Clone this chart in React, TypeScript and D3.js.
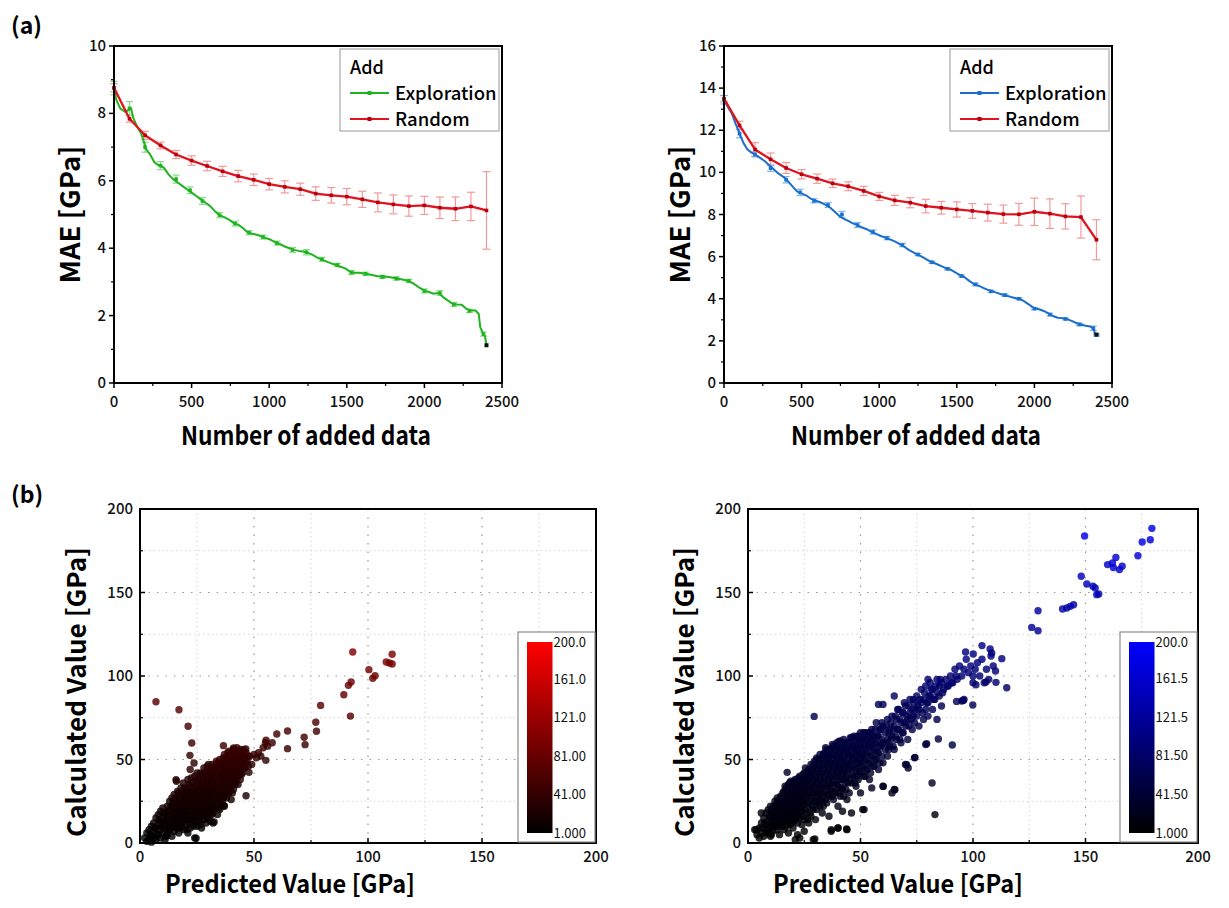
import React from 'react';
import * as d3 from 'd3';

const FONT = '"Noto Sans CJK KR", "Noto Sans", sans-serif';

// ---------- (a) data ----------
const randX = [0, 100, 200, 300, 400, 500, 600, 700, 800, 900, 1000, 1100, 1200, 1300, 1400, 1500, 1600, 1700, 1800, 1900, 2000, 2100, 2200, 2300, 2400];
const randLeftY = [8.76, 7.84, 7.35, 7.05, 6.78, 6.6, 6.44, 6.28, 6.14, 6.03, 5.9, 5.82, 5.75, 5.62, 5.57, 5.53, 5.45, 5.36, 5.3, 5.25, 5.27, 5.2, 5.17, 5.24, 5.12];
const randLeftErr = [0.12, 0.1, 0.12, 0.1, 0.12, 0.14, 0.14, 0.15, 0.17, 0.17, 0.17, 0.18, 0.18, 0.2, 0.23, 0.24, 0.24, 0.28, 0.28, 0.3, 0.27, 0.32, 0.35, 0.42, 1.15];
const randRightY = [13.5, 12.23, 11.09, 10.62, 10.21, 9.91, 9.7, 9.48, 9.34, 9.12, 8.86, 8.67, 8.56, 8.4, 8.32, 8.24, 8.17, 8.09, 8.02, 8.01, 8.13, 8.04, 7.91, 7.88, 6.8];
const randRightErr = [0.15, 0.2, 0.32, 0.3, 0.26, 0.22, 0.22, 0.2, 0.21, 0.22, 0.19, 0.24, 0.24, 0.32, 0.3, 0.36, 0.35, 0.4, 0.43, 0.52, 0.65, 0.7, 0.6, 1.0, 0.95];

const explLeftX = [0, 15, 40, 70, 95, 110, 125, 150, 175, 190, 205, 230, 260, 290, 320, 350, 380, 410, 440, 470, 500, 530, 560, 590, 620, 650, 680, 710, 740, 770, 800, 830, 860, 890, 920, 950, 980, 1010, 1040, 1070, 1100, 1130, 1160, 1190, 1220, 1250, 1280, 1310, 1340, 1370, 1400, 1430, 1460, 1490, 1520, 1550, 1580, 1610, 1640, 1670, 1700, 1730, 1760, 1790, 1820, 1850, 1880, 1910, 1940, 1970, 2000, 2030, 2060, 2090, 2120, 2150, 2180, 2210, 2240, 2270, 2300, 2330, 2350, 2360, 2375, 2390, 2400];
const explLeftY = [8.75, 8.4, 8.15, 8.05, 8.1, 8.15, 7.85, 7.6, 7.4, 7.2, 6.95, 6.8, 6.55, 6.45, 6.4, 6.2, 6.05, 5.95, 5.85, 5.75, 5.65, 5.55, 5.45, 5.35, 5.25, 5.1, 4.98, 4.92, 4.85, 4.75, 4.7, 4.6, 4.47, 4.43, 4.4, 4.35, 4.3, 4.25, 4.17, 4.12, 4.05, 4.0, 3.95, 3.92, 3.9, 3.86, 3.8, 3.72, 3.66, 3.6, 3.55, 3.5, 3.45, 3.4, 3.3, 3.27, 3.27, 3.25, 3.23, 3.2, 3.17, 3.15, 3.15, 3.13, 3.1, 3.08, 3.05, 3.0, 2.92, 2.82, 2.74, 2.7, 2.65, 2.67, 2.55, 2.45, 2.35, 2.33, 2.32, 2.2, 2.15, 2.15, 2.05, 1.65, 1.5, 1.4, 1.12];
const explLeftErrX = [0, 100, 200, 300, 400, 490, 570, 680, 780, 870, 960, 1050, 1150, 1240, 1340, 1440, 1530, 1620, 1730, 1820, 1900, 2000, 2100, 2190, 2290, 2380];
const explLeftErrY = [8.75, 8.15, 7.0, 6.45, 6.05, 5.72, 5.4, 4.98, 4.73, 4.46, 4.33, 4.15, 3.95, 3.88, 3.67, 3.5, 3.28, 3.24, 3.15, 3.1, 3.03, 2.73, 2.67, 2.33, 2.14, 1.45];
const explLeftErr = [0.2, 0.2, 0.15, 0.12, 0.12, 0.1, 0.1, 0.08, 0.07, 0.06, 0.06, 0.06, 0.07, 0.08, 0.06, 0.05, 0.06, 0.05, 0.05, 0.05, 0.05, 0.06, 0.07, 0.06, 0.05, 0.06];

const explRightX = [0, 25, 50, 75, 100, 125, 150, 175, 200, 230, 260, 290, 320, 350, 380, 410, 440, 470, 500, 530, 560, 590, 620, 650, 680, 710, 740, 770, 800, 830, 860, 890, 920, 950, 980, 1010, 1040, 1070, 1100, 1130, 1160, 1190, 1220, 1250, 1280, 1310, 1340, 1370, 1400, 1430, 1460, 1490, 1520, 1550, 1580, 1610, 1640, 1670, 1700, 1730, 1760, 1790, 1820, 1850, 1880, 1910, 1940, 1970, 2000, 2030, 2060, 2090, 2120, 2150, 2180, 2210, 2240, 2270, 2300, 2330, 2360, 2380, 2390, 2400];
const explRightY = [13.45, 13.1, 12.8, 12.3, 11.85, 11.4, 11.1, 10.95, 10.85, 10.7, 10.55, 10.35, 10.15, 9.95, 9.8, 9.6, 9.35, 9.1, 9.0, 8.9, 8.75, 8.65, 8.58, 8.48, 8.35, 8.15, 7.95, 7.8, 7.7, 7.58, 7.5, 7.38, 7.3, 7.18, 7.08, 6.98, 6.9, 6.82, 6.72, 6.6, 6.48, 6.32, 6.2, 6.08, 5.98, 5.85, 5.73, 5.65, 5.55, 5.45, 5.38, 5.25, 5.12, 5.02, 4.85, 4.7, 4.62, 4.52, 4.42, 4.35, 4.28, 4.2, 4.15, 4.08, 4.02, 3.98, 3.85, 3.7, 3.55, 3.5, 3.42, 3.3, 3.18, 3.1, 3.08, 3.03, 2.95, 2.85, 2.78, 2.72, 2.68, 2.6, 2.35, 2.3];
const explRightErrX = [0, 100, 200, 300, 400, 490, 580, 670, 760, 860, 960, 1050, 1150, 1250, 1340, 1440, 1530, 1620, 1720, 1810, 1900, 2000, 2100, 2200, 2290, 2380, 2400];
const explRightErrY = [13.45, 11.84, 10.85, 10.2, 9.65, 9.05, 8.65, 8.45, 8.0, 7.5, 7.17, 6.88, 6.55, 6.1, 5.73, 5.42, 5.08, 4.68, 4.35, 4.17, 4.0, 3.53, 3.25, 3.04, 2.78, 2.6, 2.28];
const explRightErr = [0.2, 0.2, 0.12, 0.15, 0.15, 0.15, 0.1, 0.12, 0.15, 0.12, 0.1, 0.08, 0.08, 0.05, 0.05, 0.05, 0.05, 0.06, 0.05, 0.06, 0.05, 0.05, 0.06, 0.04, 0.06, 0.1, 0.05];

const xTicksA = [0, 500, 1000, 1500, 2000, 2500];
const yTicksLeftA = [0, 2, 4, 6, 8, 10];
const yTicksRightA = [0, 2, 4, 6, 8, 10, 12, 14, 16];

// ---------- (b) data: [predicted, calculated] ----------
const scatterLeft: [number, number][] = [
  [2, 3], [3, 1], [3, 6], [4, 2], [4, 8], [5, 4], [5, 0.5], [5, 10], [6, 3], [6, 7], [6, 12],
  [7, 2], [7, 9], [7, 15], [8, 5], [8, 11], [8, 17], [9, 3], [9, 8], [9, 13], [9, 19], [10, 6], [10, 10], [10, 15], [10, 21],
  [11, 2], [11, 9], [11, 13], [11, 18], [12, 5], [12, 11], [12, 16], [12, 22], [13, 8], [13, 12], [13, 19], [13, 25], [14, 4], [14, 10], [14, 15], [14, 21], [14, 27],
  [15, 7], [15, 13], [15, 18], [15, 24], [15, 29], [16, 9], [16, 16], [16, 21], [16, 26], [16, 37], [17, 6], [17, 12], [17, 18], [17, 23], [17, 30], [18, 10], [18, 15], [18, 20], [18, 25], [18, 33],
  [19, 8], [19, 14], [19, 19], [19, 24], [19, 29], [19, 36], [20, 11], [20, 17], [20, 22], [20, 27], [20, 32], [21, 6], [21, 14], [21, 20], [21, 25], [21, 30], [21, 38], [22, 9], [22, 16], [22, 22], [22, 28], [22, 34], [22, 44],
  [23, 12], [23, 18], [23, 24], [23, 30], [23, 36], [24, 3], [24, 15], [24, 21], [24, 27], [24, 33], [24, 40], [25, 10], [25, 17], [25, 23], [25, 29], [25, 35], [25, 42], [26, 13], [26, 19], [26, 25], [26, 31], [26, 38],
  [27, 9], [27, 16], [27, 22], [27, 28], [27, 34], [27, 41], [28, 14], [28, 20], [28, 26], [28, 32], [28, 39], [28, 45], [29, 12], [29, 18], [29, 24], [29, 30], [29, 36], [29, 43], [30, 16], [30, 22], [30, 28], [30, 34], [30, 40], [30, 47],
  [31, 13], [31, 20], [31, 26], [31, 32], [31, 38], [31, 44], [32, 12], [32, 18], [32, 24], [32, 30], [32, 36], [32, 42], [33, 21], [33, 27], [33, 33], [33, 39], [33, 46], [34, 17], [34, 23], [34, 29], [34, 35], [34, 41], [34, 48],
  [35, 20], [35, 26], [35, 32], [35, 38], [35, 44], [35, 50], [36, 24], [36, 30], [36, 36], [36, 42], [36, 48], [37, 22], [37, 28], [37, 34], [37, 40], [37, 46], [37, 53], [38, 27], [38, 33], [38, 39], [38, 45], [38, 51],
  [39, 30], [39, 36], [39, 42], [39, 48], [39, 55], [40, 26], [40, 34], [40, 40], [40, 46], [40, 52], [41, 32], [41, 38], [41, 44], [41, 50], [41, 56], [42, 36], [42, 42], [42, 48], [42, 54],
  [43, 35], [43, 40], [43, 46], [43, 52], [44, 38], [44, 44], [44, 50], [44, 56], [45, 42], [45, 48], [45, 53], [46, 45], [46, 51], [47, 49], [48, 52], [49, 47],
  [50, 53], [51, 51], [52, 54], [53, 52], [54, 57], [55, 60], [56, 58], [58, 60],
  [7, 84.6], [17.1, 79.8], [21.1, 69.9], [22.7, 59.9], [21.9, 52.5], [23.7, 47.9], [15.8, 37.9], [36.6, 58.3], [41, 56.9], [46.4, 56.3],
  [55.3, 61.5], [60, 65.3], [64.7, 67.1], [64.7, 56.5], [55.2, 49.5], [46.5, 28.3], [47.8, 42.3], [72, 63.3], [72.4, 58.9], [77.1, 72.3],
  [77.4, 66.9], [79.2, 82.4], [89.4, 88.8], [91.4, 94.4], [92.6, 96.4], [92.3, 76], [93.3, 114.4], [100.4, 103.8], [102.1, 98.6], [103.1, 100.2],
  [108, 108.4], [109.4, 107.8], [110.6, 107.2], [110.6, 113], [24.6, 2.8], [32.5, 12.6], [36.9, 22.4],
];

const scatterLeftFill: [number, number][] = [
  [4.5, 5], [6.5, 9], [7.5, 5], [8.5, 14], [9.5, 10], [10.5, 13], [10.5, 18], [11.5, 4], [11.5, 15], [12.5, 8], [12.5, 19], [13.5, 14], [13.5, 22],
  [14.5, 12], [14.5, 18], [14.5, 24], [15.5, 10], [15.5, 16], [15.5, 21], [15.5, 27], [16.5, 13], [16.5, 19], [16.5, 24], [16.5, 31], [17.5, 9], [17.5, 15], [17.5, 21], [17.5, 27],
  [18.5, 12], [18.5, 18], [18.5, 23], [18.5, 29], [19.5, 16], [19.5, 21], [19.5, 27], [19.5, 33], [20.5, 8], [20.5, 14], [20.5, 19], [20.5, 25], [20.5, 30],
  [21.5, 12], [21.5, 17], [21.5, 23], [21.5, 28], [21.5, 35], [22.5, 14], [22.5, 20], [22.5, 26], [22.5, 31], [22.5, 39], [23.5, 10], [23.5, 16], [23.5, 22], [23.5, 27], [23.5, 33],
  [24.5, 13], [24.5, 19], [24.5, 25], [24.5, 30], [24.5, 37], [25.5, 15], [25.5, 21], [25.5, 27], [25.5, 32], [25.5, 39], [26.5, 11], [26.5, 17], [26.5, 23], [26.5, 29], [26.5, 35], [26.5, 42],
  [27.5, 19], [27.5, 25], [27.5, 31], [27.5, 37], [28.5, 17], [28.5, 23], [28.5, 29], [28.5, 35], [28.5, 42], [29.5, 15], [29.5, 21], [29.5, 27], [29.5, 33], [29.5, 39], [29.5, 46],
  [30.5, 19], [30.5, 25], [30.5, 31], [30.5, 37], [30.5, 43], [31.5, 17], [31.5, 23], [31.5, 29], [31.5, 35], [31.5, 41], [31.5, 47], [32.5, 21], [32.5, 27], [32.5, 33], [32.5, 39], [32.5, 45],
  [33.5, 24], [33.5, 30], [33.5, 36], [33.5, 42], [33.5, 49], [34.5, 21], [34.5, 27], [34.5, 33], [34.5, 39], [34.5, 45], [35.5, 23], [35.5, 29], [35.5, 35], [35.5, 41], [35.5, 47],
  [36.5, 27], [36.5, 33], [36.5, 39], [36.5, 45], [36.5, 51], [37.5, 31], [37.5, 37], [37.5, 43], [37.5, 49], [38.5, 30], [38.5, 36], [38.5, 42], [38.5, 48], [38.5, 54],
  [39.5, 33], [39.5, 39], [39.5, 45], [39.5, 51], [40.5, 30], [40.5, 37], [40.5, 43], [40.5, 49], [40.5, 55], [41.5, 35], [41.5, 41], [41.5, 47], [41.5, 53],
  [42.5, 39], [42.5, 45], [42.5, 51], [42.5, 57], [43.5, 43], [43.5, 49], [43.5, 55], [44.5, 41], [44.5, 47], [44.5, 53], [45.5, 45], [45.5, 51], [45.5, 56], [46.5, 48], [46.5, 54], [47.5, 46], [47.5, 52],
];

const scatterRight: [number, number][] = [
  [3, 8], [4, 5], [5, 9], [5, 3], [6, 12], [6, 6], [7, 4], [7, 15], [8, 8], [8, 11], [8, 18], [9, 6], [9, 13], [9, 20], [10, 9], [10, 16], [10, 22], [10, 4],
  [11, 12], [11, 18], [11, 7], [12, 14], [12, 20], [12, 25], [12, 10], [13, 8], [13, 16], [13, 22], [13, 27], [14, 12], [14, 18], [14, 24], [14, 5], [15, 15], [15, 21], [15, 27], [15, 10], [16, 13], [16, 19], [16, 25], [16, 31], [16, 8],
  [17, 16], [17, 22], [17, 28], [17, 33], [17, 10], [18, 14], [18, 20], [18, 26], [18, 35], [18, 6], [19, 12], [19, 18], [19, 24], [19, 30], [19, 37], [20, 16], [20, 22], [20, 28], [20, 34], [20, 9], [21, 2], [21, 14], [21, 20], [21, 26], [21, 32], [21, 38], [22, 12], [22, 18], [22, 24], [22, 30], [22, 36], [22, 5],
  [23, 16], [23, 22], [23, 28], [23, 34], [23, 40], [24, 11], [24, 20], [24, 26], [24, 32], [24, 38], [25, 14], [25, 24], [25, 30], [25, 36], [25, 42], [25, 7], [26, 18], [26, 28], [26, 34], [26, 40], [27, 22], [27, 30], [27, 38], [27, 44], [27, 12], [28, 16], [28, 26], [28, 34], [28, 42], [28, 47],
  [29, 20], [29, 30], [29, 38], [29, 46], [29, 2], [30, 24], [30, 32], [30, 40], [30, 48], [30, 14], [31, 28], [31, 36], [31, 44], [31, 50], [32, 22], [32, 30], [32, 38], [32, 46], [32, 53], [33, 26], [33, 34], [33, 42], [33, 50], [33, 18], [34, 30], [34, 38], [34, 46], [34, 54],
  [35, 24], [35, 34], [35, 42], [35, 50], [35, 56], [36, 28], [36, 36], [36, 44], [36, 52], [36, 16], [37, 32], [37, 40], [37, 48], [37, 56], [37, 8], [38, 26], [38, 36], [38, 44], [38, 52], [38, 58], [39, 30], [39, 40], [39, 48], [39, 56], [40, 22], [40, 34], [40, 42], [40, 50], [40, 58], [40, 9],
  [41, 28], [41, 38], [41, 46], [41, 54], [41, 61], [42, 32], [42, 42], [42, 50], [42, 58], [42, 19], [43, 36], [43, 44], [43, 52], [43, 60], [44, 26], [44, 40], [44, 48], [44, 56], [44, 8], [45, 30], [45, 44], [45, 52], [45, 60], [46, 36], [46, 46], [46, 54], [46, 63], [46, 18],
  [47, 40], [47, 50], [47, 58], [47, 64], [48, 34], [48, 44], [48, 52], [48, 60], [49, 38], [49, 48], [49, 56], [49, 64], [50, 42], [50, 50], [50, 58], [50, 66], [50, 30], [51, 46], [51, 54], [51, 62], [51, 20], [52, 40], [52, 50], [52, 58], [52, 66],
  [53, 44], [53, 54], [53, 62], [54, 38], [54, 48], [54, 58], [54, 66], [55, 52], [55, 60], [55, 68], [55, 33], [56, 46], [56, 56], [56, 64], [57, 50], [57, 60], [57, 72], [58, 44], [58, 54], [58, 64], [58, 83], [59, 58], [59, 68], [60, 48], [60, 60], [60, 70], [60, 83], [60, 34],
  [61, 56], [61, 66], [62, 52], [62, 62], [62, 74], [63, 58], [63, 68], [64, 64], [64, 76], [64, 30], [65, 56], [65, 70], [65, 88], [65, 32], [66, 62], [66, 74], [67, 68], [67, 80], [68, 60], [68, 72], [69, 66], [69, 78], [70, 70], [70, 82], [70, 47],
  [71, 74], [71, 62], [72, 78], [72, 86], [73, 68], [73, 80], [74, 72], [74, 84], [74, 51], [75, 76], [75, 88], [76, 80], [76, 70], [77, 84], [77, 92], [78, 74], [78, 86], [79, 80], [79, 94], [79, 59], [80, 84], [80, 98], [80, 76],
  [81, 88], [81, 96], [82, 80], [82, 92], [83, 86], [84, 90], [84, 98], [84, 74], [85, 94], [85, 88], [86, 96], [86, 82], [87, 92], [88, 98], [89, 94], [90, 100], [91, 96], [92, 104], [93, 98], [94, 106], [95, 100], [95, 85], [96, 104], [96, 86],
  [97, 110], [98, 102], [99, 106], [100, 100], [100, 96], [101, 104], [102, 108], [103, 100], [104, 110], [105, 96], [106, 104], [107, 98], [108, 112], [109, 106], [110, 103],
  [149.6, 183.8], [179.5, 188.4], [178.8, 181.6], [175.2, 180.2], [173.3, 172], [163.5, 171], [162, 167.7], [159.8, 166.7], [162.4, 164.9], [166.3, 165.7], [165.1, 163.7],
  [148.1, 159.7], [150.6, 155.1], [153.3, 153.7], [154.3, 152.7], [155, 148.7], [155.9, 149.1], [139.8, 140.1], [141.7, 140.7], [143.2, 141.7], [144.7, 142.7],
  [128.9, 139.1], [126.1, 129.1], [128.9, 127.1], [104, 118.2], [107.6, 116.2], [108.3, 113.8], [112.8, 110.4], [96.7, 114.4], [100.1, 113.2],
  [115, 93], [110.2, 96.2], [105.8, 96.4], [101.3, 94.8], [99.9, 82.6], [95.7, 85.4], [92.7, 84.8], [84.6, 62.3], [90.8, 58.7], [79.4, 59.5],
  [74.2, 51.3], [71.2, 44.9], [70.5, 46.9], [81.8, 35.9], [83.1, 17], [65.3, 31.9], [60.1, 33.9], [29.4, 75.8], [17.4, 42.3],
  [3.7, 8], [5.9, 18], [29.7, 2.4], [40, 9], [43.8, 8.4], [51.6, 20], [37, 7], [10.4, 5], [23, 3],
];

const scatterRightFill: [number, number][] = [
  [6.5, 9], [7.5, 12], [8.5, 6], [9.5, 10], [9.5, 16], [10.5, 13], [10.5, 19], [11.5, 10], [11.5, 15], [11.5, 22], [12.5, 12], [12.5, 17], [12.5, 23], [13.5, 10], [13.5, 19], [13.5, 25],
  [14.5, 14], [14.5, 21], [14.5, 28], [15.5, 12], [15.5, 18], [15.5, 24], [15.5, 30], [16.5, 16], [16.5, 22], [16.5, 28], [16.5, 34], [17.5, 13], [17.5, 19], [17.5, 25], [17.5, 31],
  [18.5, 11], [18.5, 17], [18.5, 23], [18.5, 29], [18.5, 36], [19.5, 15], [19.5, 21], [19.5, 27], [19.5, 33], [20.5, 13], [20.5, 19], [20.5, 25], [20.5, 31], [20.5, 37],
  [21.5, 17], [21.5, 23], [21.5, 29], [21.5, 35], [22.5, 15], [22.5, 21], [22.5, 27], [22.5, 33], [22.5, 39], [23.5, 19], [23.5, 25], [23.5, 31], [23.5, 37],
  [24.5, 16], [24.5, 23], [24.5, 29], [24.5, 35], [24.5, 41], [25.5, 20], [25.5, 27], [25.5, 33], [25.5, 39], [25.5, 45], [26.5, 14], [26.5, 24], [26.5, 31], [26.5, 37], [26.5, 43],
  [27.5, 18], [27.5, 27], [27.5, 34], [27.5, 41], [28.5, 22], [28.5, 30], [28.5, 38], [28.5, 45], [29.5, 25], [29.5, 34], [29.5, 42], [29.5, 49],
  [30.5, 20], [30.5, 28], [30.5, 36], [30.5, 44], [30.5, 51], [31.5, 24], [31.5, 32], [31.5, 40], [31.5, 47], [32.5, 26], [32.5, 34], [32.5, 42], [32.5, 50],
  [33.5, 22], [33.5, 30], [33.5, 38], [33.5, 46], [33.5, 53], [34.5, 26], [34.5, 34], [34.5, 42], [34.5, 50], [34.5, 57], [35.5, 29], [35.5, 38], [35.5, 46], [35.5, 53],
  [36.5, 32], [36.5, 40], [36.5, 48], [36.5, 56], [37.5, 28], [37.5, 36], [37.5, 44], [37.5, 52], [37.5, 59], [38.5, 31], [38.5, 40], [38.5, 48], [38.5, 56],
  [39.5, 35], [39.5, 44], [39.5, 52], [39.5, 60], [40.5, 30], [40.5, 38], [40.5, 46], [40.5, 54], [40.5, 61], [41.5, 33], [41.5, 42], [41.5, 50], [41.5, 58],
  [42.5, 28], [42.5, 38], [42.5, 46], [42.5, 54], [42.5, 62], [43.5, 32], [43.5, 40], [43.5, 48], [43.5, 56], [44.5, 36], [44.5, 44], [44.5, 52], [44.5, 60],
  [45.5, 38], [45.5, 48], [45.5, 56], [45.5, 63], [46.5, 41], [46.5, 50], [46.5, 58], [47.5, 36], [47.5, 45], [47.5, 54], [47.5, 62], [48.5, 40], [48.5, 48], [48.5, 56], [48.5, 64],
  [49.5, 43], [49.5, 52], [49.5, 60], [50.5, 46], [50.5, 54], [50.5, 62], [51.5, 40], [51.5, 50], [51.5, 58], [51.5, 66], [52.5, 44], [52.5, 54], [52.5, 62],
  [53.5, 48], [53.5, 58], [53.5, 66], [54.5, 42], [54.5, 52], [54.5, 62], [55.5, 46], [55.5, 56], [55.5, 64], [56.5, 50], [56.5, 60], [56.5, 68], [57.5, 54], [57.5, 64],
  [58.5, 48], [58.5, 58], [58.5, 68], [59.5, 52], [59.5, 62], [59.5, 72], [61.5, 60], [61.5, 70], [62.5, 56], [62.5, 66], [63.5, 62], [63.5, 72], [64.5, 58], [64.5, 68],
  [65.5, 64], [65.5, 76], [66.5, 68], [66.5, 80], [67.5, 62], [67.5, 74], [68.5, 66], [68.5, 78], [69.5, 72], [69.5, 84], [70.5, 76], [71.5, 70], [71.5, 82], [72.5, 74],
  [73.5, 76], [73.5, 86], [74.5, 80], [75.5, 82], [76.5, 86], [77.5, 78], [78.5, 90], [79.5, 84], [80.5, 88], [81.5, 92], [82.5, 86], [83.5, 94], [85.5, 98], [86.5, 90], [88.5, 94], [90.5, 96], [92.5, 100],
];

const scatterTicks = [0, 50, 100, 150, 200];
const colorbarLeftLabels = ['200.0', '161.0', '121.0', '81.00', '41.00', '1.000'];
const colorbarLeftValues = [200, 161, 121, 81, 41, 1];
const colorbarRightLabels = ['200.0', '161.5', '121.5', '81.50', '41.50', '1.000'];
const colorbarRightValues = [200, 161.5, 121.5, 81.5, 41.5, 1];

// ---------- components ----------
type LinePanelProps = {
  left: number; top: number; width: number; height: number;
  yMax: number; yTicks: number[];
  explX: number[]; explY: number[]; eX: number[]; eY: number[]; eE: number[];
  explColor: string; explErrColor: string;
  rY: number[]; rE: number[];
};

function LinePanel(p: LinePanelProps) {
  const x = d3.scaleLinear().domain([0, 2500]).range([p.left, p.left + p.width]);
  const y = d3.scaleLinear().domain([0, p.yMax]).range([p.top + p.height, p.top]);
  const bottom = p.top + p.height;
  const line = d3.line<[number, number]>().x(d => x(d[0])).y(d => y(d[1]));
  const explPts = p.explX.map((v, i) => [v, p.explY[i]] as [number, number]);
  const randPts = randX.map((v, i) => [v, p.rY[i]] as [number, number]);
  const minorX = d3.range(250, 2500, 500);
  const minorY = d3.range(1, p.yMax, 2);
  const red = '#e0141e';
  const redErr = '#f29a9a';
  const lgRight = p.left + p.width - 3;
  const lgLeft = lgRight - 159;
  const lgTop = p.top + 3;
  return (
    <g>
      {randX.map((v, i) => (
        <g key={'re' + i} stroke={redErr} strokeWidth={1.2}>
          <line x1={x(v)} x2={x(v)} y1={y(p.rY[i] - p.rE[i])} y2={y(p.rY[i] + p.rE[i])} />
          <line x1={x(v) - 4} x2={x(v) + 4} y1={y(p.rY[i] - p.rE[i])} y2={y(p.rY[i] - p.rE[i])} />
          <line x1={x(v) - 4} x2={x(v) + 4} y1={y(p.rY[i] + p.rE[i])} y2={y(p.rY[i] + p.rE[i])} />
        </g>
      ))}
      {p.eX.map((v, i) => (
        <g key={'ee' + i} stroke={p.explErrColor} strokeWidth={1.2}>
          <line x1={x(v)} x2={x(v)} y1={y(p.eY[i] - p.eE[i])} y2={y(p.eY[i] + p.eE[i])} />
          <line x1={x(v) - 3.5} x2={x(v) + 3.5} y1={y(p.eY[i] - p.eE[i])} y2={y(p.eY[i] - p.eE[i])} />
          <line x1={x(v) - 3.5} x2={x(v) + 3.5} y1={y(p.eY[i] + p.eE[i])} y2={y(p.eY[i] + p.eE[i])} />
        </g>
      ))}
      <path d={line(explPts) || ''} fill="none" stroke={p.explColor} strokeWidth={2} strokeLinejoin="round" />
      {p.eX.map((v, i) => (
        <rect key={'em' + i} x={x(v) - 1.8} y={y(p.eY[i]) - 1.8} width={3.6} height={3.6} fill={p.explColor} />
      ))}
      <path d={line(randPts) || ''} fill="none" stroke={red} strokeWidth={2.3} strokeLinejoin="round" />
      {randX.map((v, i) => (
        <rect key={'rm' + i} x={x(v) - 1.8} y={y(p.rY[i]) - 1.8} width={3.6} height={3.6} fill="#b80010" />
      ))}
      <rect x={x(p.explX[p.explX.length - 1]) - 2} y={y(p.explY[p.explY.length - 1]) - 2} width={4} height={4} fill="#111" />
      <rect x={p.left} y={p.top} width={p.width} height={p.height} fill="none" stroke="#000" strokeWidth={2} />
      {xTicksA.map(t => (
        <g key={'xt' + t}>
          <line x1={x(t)} x2={x(t)} y1={bottom} y2={bottom + 5} stroke="#000" strokeWidth={1.5} />
          <text x={x(t)} y={bottom + 24} textAnchor="middle" fontSize={15} fontWeight={500} fontFamily={FONT} fill="#111">{t}</text>
        </g>
      ))}
      {minorX.map(t => (
        <line key={'xm' + t} x1={x(t)} x2={x(t)} y1={bottom} y2={bottom + 3} stroke="#000" strokeWidth={1.2} />
      ))}
      {p.yTicks.map(t => (
        <g key={'yt' + t}>
          <line x1={p.left - 5} x2={p.left} y1={y(t)} y2={y(t)} stroke="#000" strokeWidth={1.5} />
          <text x={p.left - 8} y={y(t) + 5} textAnchor="end" fontSize={15} fontWeight={500} fontFamily={FONT} fill="#111">{t}</text>
        </g>
      ))}
      {minorY.map(t => (
        <line key={'ym' + t} x1={p.left - 3} x2={p.left} y1={y(t)} y2={y(t)} stroke="#000" strokeWidth={1.2} />
      ))}
      <text x={p.left + p.width / 2 - 2} y={bottom + 62} textAnchor="middle" fontSize={26} fontWeight={700} fontFamily={FONT} fill="#000" textLength={250} lengthAdjust="spacingAndGlyphs">Number of added data</text>
      <text transform={`translate(${p.left - 34},${p.top + p.height / 2}) rotate(-90)`} textAnchor="middle" fontSize={27} fontWeight={700} fontFamily={FONT} fill="#000" textLength={138} lengthAdjust="spacingAndGlyphs">MAE [GPa]</text>
      <rect x={lgLeft} y={lgTop} width={159} height={82} fill="#fff" stroke="#a8a8a8" strokeWidth={1.2} />
      <text x={lgLeft + 10} y={lgTop + 25} fontSize={18} fontWeight={500} fontFamily={FONT} fill="#000">Add</text>
      <line x1={lgLeft + 10} x2={lgLeft + 49} y1={lgTop + 44} y2={lgTop + 44} stroke={p.explColor} strokeWidth={2.2} />
      <rect x={lgLeft + 27.5} y={lgTop + 42} width={4} height={4} fill={p.explColor} />
      <text x={lgLeft + 55} y={lgTop + 51} fontSize={18.5} fontWeight={500} fontFamily={FONT} fill="#000">Exploration</text>
      <line x1={lgLeft + 10} x2={lgLeft + 49} y1={lgTop + 70} y2={lgTop + 70} stroke={red} strokeWidth={2.2} />
      <rect x={lgLeft + 27.5} y={lgTop + 68} width={4} height={4} fill="#b80010" />
      <text x={lgLeft + 55} y={lgTop + 77} fontSize={18.5} fontWeight={500} fontFamily={FONT} fill="#000">Random</text>
    </g>
  );
}

type ScatterProps = {
  left: number; top: number; width: number; height: number;
  data: [number, number][]; fill: [number, number][]; hue: string; gid: string;
  cbLabels: string[]; cbValues: number[];
};

function ScatterPanel(p: ScatterProps) {
  const x = d3.scaleLinear().domain([0, 200]).range([p.left, p.left + p.width]);
  const y = d3.scaleLinear().domain([0, 200]).range([p.top + p.height, p.top]);
  const bottom = p.top + p.height;
  const right = p.left + p.width;
  const color = d3.scalePow<string>().exponent(1.2).domain([1, 200]).range(['#000000', p.hue]).clamp(true);
  const majors = [50, 100, 150];
  const minors = [25, 75, 125, 175];
  const cbBoxL = right - 78, cbBoxT = bottom - 211;
  const gL = cbBoxL + 9, gR = gL + 25.5, gT = cbBoxT + 10, gB = bottom - 10;
  const cbY = d3.scaleLinear().domain([1, 200]).range([gB, gT]);
  const all = p.fill.concat(p.data);
  return (
    <g>
      <defs>
        <linearGradient id={p.gid} x1="0" y1="1" x2="0" y2="0">
          <stop offset="0%" stopColor="#000" />
          <stop offset="100%" stopColor={p.hue} />
        </linearGradient>
      </defs>
      {minors.map(t => (
        <g key={'mg' + t} stroke="#d4d4d4" strokeWidth={1} strokeDasharray="1.5,3">
          <line x1={x(t)} x2={x(t)} y1={p.top} y2={bottom} />
          <line x1={p.left} x2={right} y1={y(t)} y2={y(t)} />
        </g>
      ))}
      {majors.map(t => (
        <g key={'Mg' + t} stroke="#9a9a9a" strokeWidth={1.2} strokeDasharray="1.5,7">
          <line x1={x(t)} x2={x(t)} y1={p.top} y2={bottom} />
          <line x1={p.left} x2={right} y1={y(t)} y2={y(t)} />
        </g>
      ))}
      {all.map((d, i) => (
        <circle key={i} cx={x(d[0])} cy={y(d[1])} r={3.7} fill={color(d[1])} fillOpacity={0.82} />
      ))}
      <rect x={p.left} y={p.top} width={p.width} height={p.height} fill="none" stroke="#000" strokeWidth={2} />
      {scatterTicks.map(t => (
        <g key={'t' + t}>
          <line x1={x(t)} x2={x(t)} y1={bottom} y2={bottom - 5} stroke="#000" strokeWidth={1.5} />
          <line x1={p.left} x2={p.left + 5} y1={y(t)} y2={y(t)} stroke="#000" strokeWidth={1.5} />
          <text x={x(t)} y={bottom + 19} textAnchor="middle" fontSize={15} fontWeight={500} fontFamily={FONT} fill="#111">{t}</text>
          <text x={p.left - 7} y={y(t) + 5} textAnchor="end" fontSize={15} fontWeight={500} fontFamily={FONT} fill="#111">{t}</text>
        </g>
      ))}
      {minors.map(t => (
        <g key={'mt' + t}>
          <line x1={x(t)} x2={x(t)} y1={bottom} y2={bottom - 3} stroke="#000" strokeWidth={1.2} />
          <line x1={p.left} x2={p.left + 3} y1={y(t)} y2={y(t)} stroke="#000" strokeWidth={1.2} />
        </g>
      ))}
      <rect x={cbBoxL} y={cbBoxT} width={right - cbBoxL - 1} height={bottom - cbBoxT - 1} fill="#fff" stroke="#8a8a8a" strokeWidth={1.2} />
      <rect x={gL} y={gT} width={gR - gL} height={gB - gT} fill={`url(#${p.gid})`} />
      {p.cbLabels.map((l, i) => (
        <text key={l} x={gR + 1} y={cbY(p.cbValues[i]) + 4.5} fontSize={13} fontFamily={FONT} fill="#111">{l}</text>
      ))}
      <text x={p.left + 150} y={bottom + 50} textAnchor="middle" fontSize={25} fontWeight={700} fontFamily={FONT} fill="#000" textLength={250} lengthAdjust="spacingAndGlyphs">Predicted Value [GPa]</text>
      <text transform={`translate(${p.left - 54},${p.top + p.height / 2 + 16}) rotate(-90)`} textAnchor="middle" fontSize={26} fontWeight={700} fontFamily={FONT} fill="#000" textLength={290} lengthAdjust="spacingAndGlyphs">Calculated Value [GPa]</text>
    </g>
  );
}

export default function App() {
  return (
    <svg width={1229} height={908} style={{ position: 'absolute', left: 0, top: 0, background: '#fff' }} fontFamily={FONT}>
      <rect width={1229} height={908} fill="#fff" />
      <text x={11} y={34} fontSize={23} fontWeight={600} fontFamily={FONT}>(a)</text>
      <text x={11} y={503} fontSize={23} fontWeight={600} fontFamily={FONT}>(b)</text>
      <LinePanel left={114} top={46} width={388} height={337} yMax={10} yTicks={yTicksLeftA}
        explX={explLeftX} explY={explLeftY} eX={explLeftErrX} eY={explLeftErrY} eE={explLeftErr}
        explColor="#1fb31f" explErrColor="#86dc86" rY={randLeftY} rE={randLeftErr} />
      <LinePanel left={724} top={46} width={388} height={337} yMax={16} yTicks={yTicksRightA}
        explX={explRightX} explY={explRightY} eX={explRightErrX} eY={explRightErrY} eE={explRightErr}
        explColor="#1a6fcc" explErrColor="#7fb3ea" rY={randRightY} rE={randRightErr} />
      <ScatterPanel left={140} top={509} width={456} height={334} data={scatterLeft} fill={scatterLeftFill} hue="#ff0000" gid="gradRed"
        cbLabels={colorbarLeftLabels} cbValues={colorbarLeftValues} />
      <ScatterPanel left={748} top={509} width={450} height={334} data={scatterRight} fill={scatterRightFill} hue="#0000ff" gid="gradBlue"
        cbLabels={colorbarRightLabels} cbValues={colorbarRightValues} />
    </svg>
  );
}
